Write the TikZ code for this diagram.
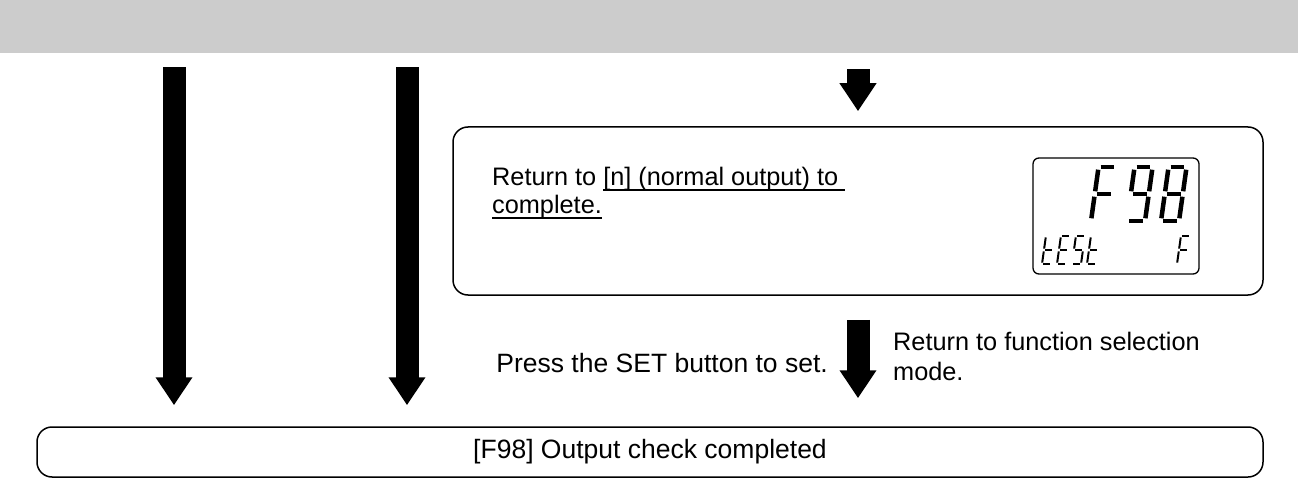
\documentclass[tikz,border=0pt]{standalone}
\usepackage{fontspec}
\setmainfont{Liberation Sans}
\usetikzlibrary{arrows.meta}

\tikzset{
  band/.style={fill=black!20, inner sep=0pt, minimum width=1298pt, minimum height=53pt},
  box/.style={draw, line width=1.5pt, rounded corners=15pt, inner sep=0pt},
  txt/.style={inner sep=0pt, font=\fontsize{25.3}{28}\selectfont},
  bigtxt/.style={inner sep=0pt, font=\fontsize{26.5}{30}\selectfont},
  fatarrow/.style={line width=23pt, -{Triangle[width=35pt,length=28pt]}},
  bigseg/.style={line width=4.5pt},
  smallseg/.style={line width=2pt},
}

% underline at a fixed depth below the baseline
\newcommand{\ulin}[1]{\setbox0\hbox{#1}\rlap{\rule[-5pt]{\wd0}{1.8pt}}\box0}

% one slanted seven-segment character: x, baseline y, width, height, style, segments
\newcommand{\lcdchar}[6]{%
  \foreach \s/\ua/\va/\ub/\vb in {a/0.12/1/0.88/1, b/1/0.95/1/0.55, c/1/0.45/1/0.05,
      d/0.12/0/0.88/0, e/0/0.45/0/0.05, f/0/0.95/0/0.55, g/0.12/0.5/0.88/0.5} {
    \coordinate (\s1) at ({#1+\ua*#3+0.14*\va*#4},{#2-\va*#4});
    \coordinate (\s2) at ({#1+\ub*#3+0.14*\vb*#4},{#2-\vb*#4});
  }
  \foreach \s in {#6} \draw[#5] (\s1) -- (\s2);}

\begin{document}
\begin{tikzpicture}[x=1pt, y=-1pt]
  \useasboundingbox (0,0) rectangle (1298,481);
  % header band and the two boxes
  \node[band] (hdr) at (649,26.5) {};
  \node[box, minimum width=810pt, minimum height=168pt] (ret) at (858,211) {};
  \node[box, bigtxt, minimum width=1226pt, minimum height=50pt] (done) at (650,452)
    {[F98] Output check completed};
  % columns of the arrows
  \coordinate (colA) at (174,0);
  \coordinate (colB) at (407,0);
  \coordinate (colC) at (858,0);
  \draw[fatarrow, shorten <=14pt, shorten >=21pt] (hdr.south -| colA) -- (done.north -| colA);
  \draw[fatarrow, shorten <=14pt, shorten >=21pt] (hdr.south -| colB) -- (done.north -| colB);
  \draw[fatarrow, shorten <=16pt, shorten >=15pt] (hdr.south -| colC) -- (ret.north -| colC);
  \draw[fatarrow, shorten <=24pt, shorten >=28pt] (ret.south -| colC) -- (done.north -| colC);
  % texts
  \node[txt, anchor=north west, align=left] (msg) at (492,167)
    {Return to \ulin{[n] (normal output) to }\\\ulin{complete.}};
  \node[bigtxt, anchor=base east] (press) at (828,372) {Press the SET button to set.};
  \node[txt, anchor=north west, align=left] (back) at (893,332)
    {Return to function selection\\[2pt]mode.};
  % LCD display
  \node[draw, line width=1.3pt, rounded corners=6pt, minimum width=166pt,
    minimum height=116pt] (lcd) at (1116,216) {};
  \lcdchar{1091}{221}{18}{54}{bigseg}{a,e,f,g}
  \lcdchar{1127}{221}{18}{54}{bigseg}{a,b,c,d,f,g}
  \lcdchar{1161}{221}{18}{54}{bigseg}{a,b,c,d,e,f,g}
  \lcdchar{1042}{264}{9}{28}{smallseg}{d,e,f,g}
  \lcdchar{1057}{264}{9}{28}{smallseg}{a,d,e,f,g}
  \lcdchar{1072}{264}{9}{28}{smallseg}{a,c,d,f,g}
  \lcdchar{1087}{264}{9}{28}{smallseg}{d,e,f,g}
  \lcdchar{1177}{264}{9}{28}{smallseg}{a,e,f,g}
\end{tikzpicture}
\end{document}
